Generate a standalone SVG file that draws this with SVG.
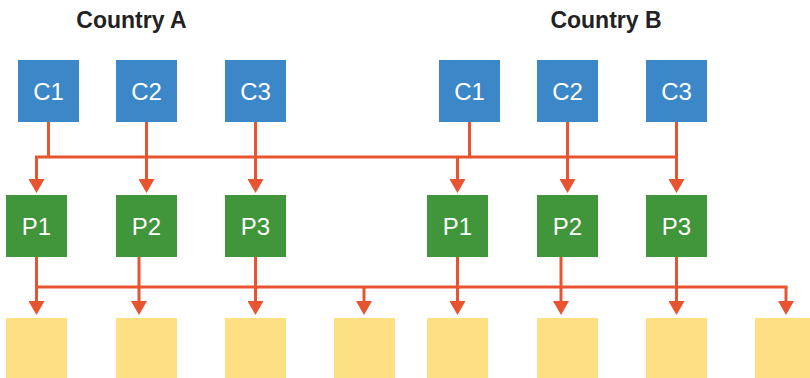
<svg xmlns="http://www.w3.org/2000/svg" width="810" height="378" viewBox="0 0 810 378">
  <defs>
    <!-- arrowhead drawn along +x; base sits on the end of the line -->
    <marker id="arrow" viewBox="0 0 14 16" refX="0" refY="8" markerWidth="14" markerHeight="16" markerUnits="userSpaceOnUse" orient="auto">
      <path d="M0,0 L14,8 L0,16 Z" fill="#e8542f"/>
    </marker>
    <style>
      .title { font-family: "Liberation Sans", Arial, sans-serif; font-weight: bold; font-size: 23px; fill: #222; text-anchor: middle; }
      .lbl { font-family: "Liberation Sans", Arial, sans-serif; font-size: 24px; fill: #ffffff; text-anchor: middle; }
      .c { fill: #3b87c7; }
      .p { fill: #41953a; }
      .o { fill: #fde084; }
      .wire { fill: none; stroke: #e8542f; stroke-width: 3; }
      .arr { fill: none; stroke: #e8542f; stroke-width: 3; }
    </style>
  </defs>

  <rect width="810" height="378" fill="#ffffff"/>

  <text class="title" x="131.5" y="28">Country A</text>
  <text class="title" x="606" y="28">Country B</text>

  <!-- connectors -->
  <g id="connectors">
    <!-- consumer bus -->
    <path class="wire" d="M48.5,122 V157 M146.5,122 V157 M255.5,122 V157 M469.5,122 V157 M567.5,122 V157 M676.5,122 V157 M35,157 H678"/>
    <path class="arr" d="M36.5,157 V179" marker-end="url(#arrow)"/>
    <path class="arr" d="M146.5,157 V179" marker-end="url(#arrow)"/>
    <path class="arr" d="M255.5,157 V179" marker-end="url(#arrow)"/>
    <path class="arr" d="M457.5,157 V179" marker-end="url(#arrow)"/>
    <path class="arr" d="M567.5,157 V179" marker-end="url(#arrow)"/>
    <path class="arr" d="M676.5,157 V179" marker-end="url(#arrow)"/>
    <!-- producer bus -->
    <path class="wire" d="M36.5,257 V287 M139,257 V287 M255.5,257 V287 M457.5,257 V287 M561,257 V287 M676.5,257 V287 M35,287 H787.5"/>
    <path class="arr" d="M36.5,287 V301" marker-end="url(#arrow)"/>
    <path class="arr" d="M139,287 V301" marker-end="url(#arrow)"/>
    <path class="arr" d="M255.5,287 V301" marker-end="url(#arrow)"/>
    <path class="arr" d="M364,287 V301" marker-end="url(#arrow)"/>
    <path class="arr" d="M457.5,287 V301" marker-end="url(#arrow)"/>
    <path class="arr" d="M561,287 V301" marker-end="url(#arrow)"/>
    <path class="arr" d="M676.5,287 V301" marker-end="url(#arrow)"/>
    <path class="arr" d="M786,287 V301" marker-end="url(#arrow)"/>
  </g>

  <!-- Country A consumers -->
  <g id="a-c1"><rect class="c" x="18" y="60" width="61" height="62"/><text class="lbl" x="48.5" y="100">C1</text></g>
  <g id="a-c2"><rect class="c" x="116" y="60" width="61" height="62"/><text class="lbl" x="146.5" y="100">C2</text></g>
  <g id="a-c3"><rect class="c" x="225" y="60" width="61" height="62"/><text class="lbl" x="255.5" y="100">C3</text></g>
  <!-- Country B consumers -->
  <g id="b-c1"><rect class="c" x="439" y="60" width="61" height="62"/><text class="lbl" x="469.5" y="100">C1</text></g>
  <g id="b-c2"><rect class="c" x="537" y="60" width="61" height="62"/><text class="lbl" x="567.5" y="100">C2</text></g>
  <g id="b-c3"><rect class="c" x="646" y="60" width="61" height="62"/><text class="lbl" x="676.5" y="100">C3</text></g>

  <!-- Country A producers -->
  <g id="a-p1"><rect class="p" x="6" y="195" width="61" height="62"/><text class="lbl" x="36.5" y="235">P1</text></g>
  <g id="a-p2"><rect class="p" x="116" y="195" width="61" height="62"/><text class="lbl" x="146.5" y="235">P2</text></g>
  <g id="a-p3"><rect class="p" x="225" y="195" width="61" height="62"/><text class="lbl" x="255.5" y="235">P3</text></g>
  <!-- Country B producers -->
  <g id="b-p1"><rect class="p" x="427" y="195" width="61" height="62"/><text class="lbl" x="457.5" y="235">P1</text></g>
  <g id="b-p2"><rect class="p" x="537" y="195" width="61" height="62"/><text class="lbl" x="567.5" y="235">P2</text></g>
  <g id="b-p3"><rect class="p" x="646" y="195" width="61" height="62"/><text class="lbl" x="676.5" y="235">P3</text></g>

  <!-- outlets -->
  <g id="o1"><rect class="o" x="6" y="318" width="61" height="60"/></g>
  <g id="o2"><rect class="o" x="116" y="318" width="61" height="60"/></g>
  <g id="o3"><rect class="o" x="225" y="318" width="61" height="60"/></g>
  <g id="o4"><rect class="o" x="334" y="318" width="61" height="60"/></g>
  <g id="o5"><rect class="o" x="427" y="318" width="61" height="60"/></g>
  <g id="o6"><rect class="o" x="537" y="318" width="61" height="60"/></g>
  <g id="o7"><rect class="o" x="646" y="318" width="61" height="60"/></g>
  <g id="o8"><rect class="o" x="755" y="318" width="61" height="60"/></g>
</svg>
